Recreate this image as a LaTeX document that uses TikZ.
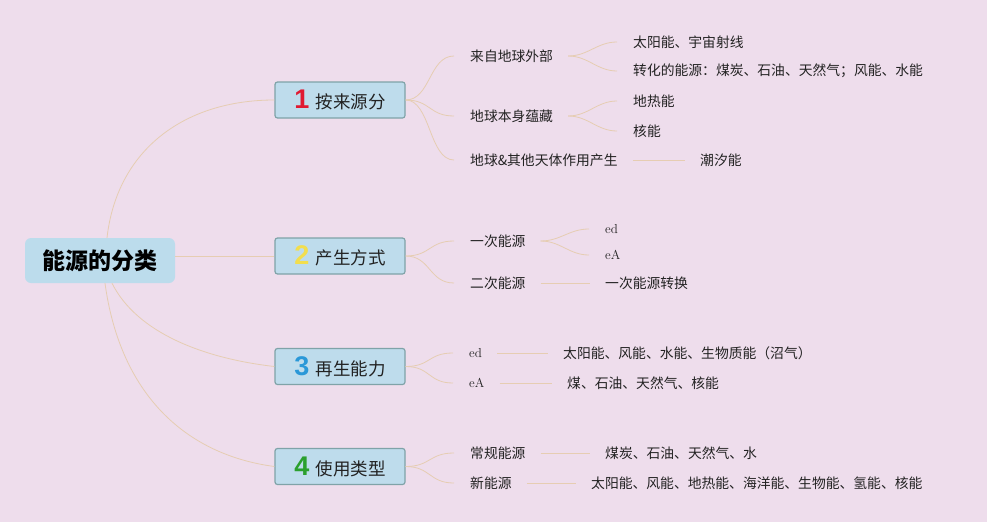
\documentclass[tikz,border=0pt]{standalone}
\usepackage{fontspec}
\newfontfamily\cjk{Noto Sans CJK SC}
\newfontfamily\numf{Liberation Sans}
\definecolor{bgc}{HTML}{EEDDEC}
\definecolor{rootc}{HTML}{BCDCEC}
\definecolor{boxc}{HTML}{BEDCEC}
\definecolor{boxb}{HTML}{7FA3A8}
\definecolor{linec}{HTML}{E6CDB2}
\definecolor{txt}{HTML}{222222}
\definecolor{n1}{HTML}{E01A32}
\definecolor{n2}{HTML}{F2DE4E}
\definecolor{n3}{HTML}{2A98D8}
\definecolor{n4}{HTML}{2BA02E}
\tikzset{
  rootbox/.style={fill=rootc, rounded corners=6pt, minimum width=150pt, minimum height=45pt, inner sep=0pt, font=\cjk\bfseries\fontsize{23}{26}\selectfont, text=black},
  mainbox/.style={fill=boxc, draw=boxb, line width=1.2pt, rounded corners=2.5pt, minimum width=130pt, minimum height=36pt, inner sep=0pt, font=\cjk\fontsize{17.5}{20}\selectfont, text=txt},
  leaf/.style={anchor=west, inner sep=0pt, font=\cjk\fontsize{13.8}{16}\selectfont, text=txt},
  leafs/.style={anchor=west, inner sep=0pt, font=\fontsize{13}{15}\selectfont, text=txt},
  conn/.style={draw=linec, line width=0.8pt},
}
\newcommand{\bnum}[2]{{\numf\bfseries\fontsize{27}{28}\selectfont\color{#1}#2}\hspace{6pt}}
\begin{document}
\begin{tikzpicture}[x=1pt,y=-1pt]
\fill[bgc] (0,0) rectangle (987,522);
\useasboundingbox (0,0) rectangle (987,522);

\node[rootbox] (root) at (100,260.5) {能源的分类};

\node[mainbox] (b1) at (340,100) {\bnum{n1}{1}按来源分};
\node[mainbox] (b2) at (340,256) {\bnum{n2}{2}产生方式};
\node[mainbox] (b3) at (340,366.5) {\bnum{n3}{3}再生能力};
\node[mainbox] (b4) at (340,466.5) {\bnum{n4}{4}使用类型};

% level 2
\node[leaf] (c11) at (470,56) {来自地球外部};
\node[leaf] (c12) at (470,116) {地球本身蕴藏};
\node[leaf] (c13) at (470,160) {地球\&其他天体作用产生};
\node[leaf] (c21) at (470,241) {一次能源};
\node[leaf] (c22) at (470,283) {二次能源};
\node[leafs] (c31) at (469,353) {ed};
\node[leafs] (c32) at (469,383) {eA};
\node[leaf] (c41) at (470,453) {常规能源};
\node[leaf] (c42) at (470,483) {新能源};

% level 3
\node[leaf] (d111) at (633,42) {太阳能、宇宙射线};
\node[leaf] (d112) at (633,71) {转化的能源：煤炭、石油、天然气；风能、水能};
\node[leaf] (d121) at (633,101) {地热能};
\node[leaf] (d122) at (633,131) {核能};
\node[leaf] (d131) at (700,160) {潮汐能};
\node[leafs] (d211) at (605,229) {ed};
\node[leafs] (d212) at (605,255) {eA};
\node[leaf] (d221) at (605,283) {一次能源转换};
\node[leaf] (d311) at (563,353) {太阳能、风能、水能、生物质能（沼气）};
\node[leaf] (d321) at (567,383) {煤、石油、天然气、核能};
\node[leaf] (d411) at (605,453) {煤炭、石油、天然气、水};
\node[leaf] (d421) at (591,483) {太阳能、风能、地热能、海洋能、生物能、氢能、核能};

% root connectors
\draw[conn] ([xshift=7pt]root.north) .. controls +(10,-88) and +(-90,0) .. (b1.west);
\draw[conn] (root.east |- b2.west) -- (b2.west);
\draw[conn] ([xshift=12pt]root.south) .. controls +(25,50) and +(-70,-8) .. (b3.west);
\draw[conn] ([xshift=5pt]root.south) .. controls +(15,110) and +(-90,-12) .. (b4.west);

% box -> level 2
\foreach \b/\c in {b1/c11,b1/c12,b1/c13,b2/c21,b2/c22,b3/c31,b3/c32,b4/c41,b4/c42}{
  \draw[conn] (\b.east) .. controls +(25,0) and +(-25,0) .. ([xshift=-16pt]\c.west);
}

% level 2 -> level 3 curves
\foreach \c/\d in {c11/d111,c11/d112,c12/d121,c12/d122,c21/d211,c21/d212}{
  \draw[conn] ([xshift=15pt]\c.east) .. controls +(20,0) and +(-20,0) .. ([xshift=-16pt]\d.west);
}
% straight
\foreach \c/\d in {c13/d131,c22/d221,c31/d311,c32/d321,c41/d411,c42/d421}{
  \draw[conn] ([xshift=15pt]\c.east) -- ([xshift=-15pt]\d.west);
}
\end{tikzpicture}
\end{document}
